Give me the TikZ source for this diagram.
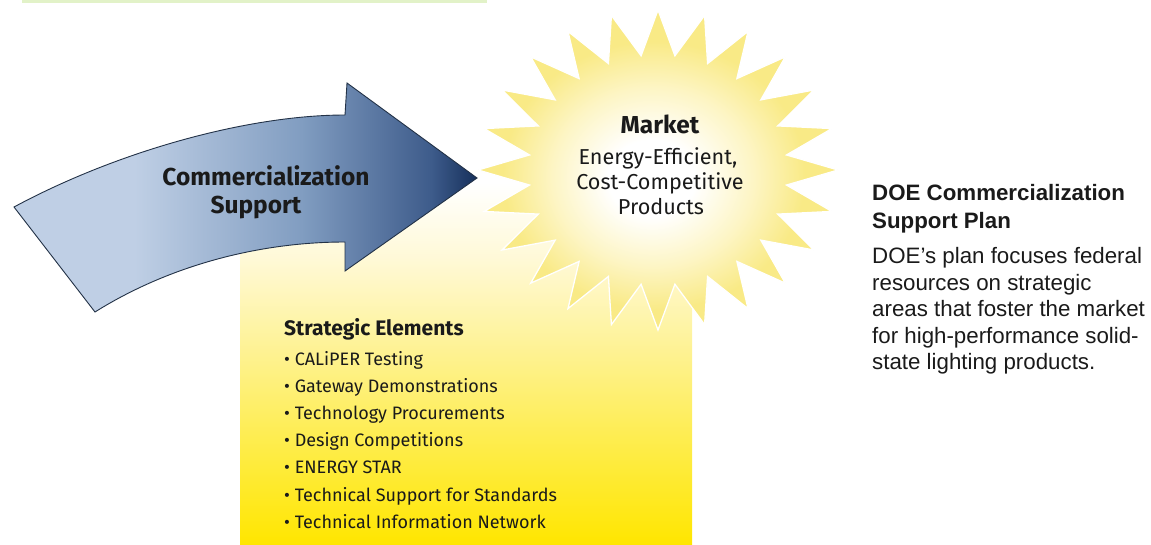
\documentclass[tikz,border=0pt]{standalone}
\usepackage{fontspec}
\setmainfont{Fira Sans}
\newfontfamily\arialfont{Liberation Sans}
\definecolor{arrowA}{HTML}{BFCFE5}
\definecolor{arrowB}{HTML}{819DC1}
\definecolor{arrowC}{HTML}{3E5C8B}
\definecolor{arrowD}{HTML}{16305C}
\definecolor{yelA}{HTML}{FFE600}
\definecolor{yelB}{HTML}{FEEC45}
\definecolor{yelC}{HTML}{FEF292}
\definecolor{yelD}{HTML}{FFF9D6}
\definecolor{starB}{HTML}{FDF5C4}
\definecolor{starC}{HTML}{F9EA86}
\definecolor{topline}{HTML}{E2F2C8}
\definecolor{outline}{HTML}{233247}
\definecolor{txt}{HTML}{1A1A1A}
\pgfdeclarehorizontalshading{arrowshade}{100bp}{color(0bp)=(arrowA); color(25bp)=(arrowA); color(38bp)=(arrowA); color(56bp)=(arrowB); color(70bp)=(arrowC); color(75bp)=(arrowD); color(100bp)=(arrowD)}
\pgfdeclareverticalshading{rectshade}{100bp}{color(0bp)=(yelA); color(25bp)=(yelA); color(37bp)=(yelB); color(50bp)=(yelC); color(62bp)=(yelD); color(72bp)=(white); color(100bp)=(white)}
\pgfdeclareradialshading{starshade}{\pgfpoint{-1bp}{-1.5bp}}{color(0bp)=(white); color(6bp)=(white); color(14bp)=(starB); color(21bp)=(starC); color(50bp)=(starC)}
\begin{document}
\begin{tikzpicture}[x=1pt,y=-1pt,
  starlbl/.style={font=\fontsize{21.6}{24}\selectfont, text=txt, inner sep=0pt, anchor=base},
  arrowlbl/.style={font=\fontsize{24.5}{26}\selectfont\bfseries, text=txt, inner sep=0pt, anchor=base},
  itemlbl/.style={font=\fontsize{18}{20}\selectfont, text=txt, inner sep=0pt, anchor=base west},
  sidetitle/.style={font=\arialfont\fontsize{22.3}{26}\selectfont\bfseries, text=txt, inner sep=0pt, anchor=base west},
  sidebody/.style={font=\arialfont\fontsize{22.3}{26}\selectfont, text=txt, inner sep=0pt, anchor=base west}]
\useasboundingbox (0,0) rectangle (1151,544);
% thin line at the top
\fill[topline] (22,0) rectangle (487,2.5);
% yellow panel
\shade[shading=rectshade] (240,160) rectangle (692,544);
% starburst
\shade[shading=starshade, draw=white, line width=1.3pt]
  plot[samples at={0,...,47}, variable=\k]
  ({658+180*(0.72+0.28*(1-mod(\k,2)))*cos(90+7.5*\k)},
   {170-160*(0.72+0.28*(1-mod(\k,2)))*sin(90+7.5*\k)}) -- cycle;
% curved arrow
\shade[shading=arrowshade, draw=outline, line width=0.9pt, line join=miter]
  (14,207) .. controls (120,150) and (250,115) .. (345,115)
  -- (347,83) -- (477,178) -- (345,271) -- (345,242)
  .. controls (260,242) and (170,265) .. (95,312) -- cycle;
% arrow labels
\node[arrowlbl] (cs1) at (266,185) {Commercialization};
\node[arrowlbl] (cs2) at (256,213) {Support};
% star labels
\node[starlbl, font=\fontsize{24.5}{26}\selectfont\bfseries] (m0) at (660,133) {Market};
\node[starlbl] (m1) at (658,164) {Energy-Efficient,};
\node[starlbl] (m2) at (660,189) {Cost-Competitive};
\node[starlbl] (m3) at (661,214) {Products};
% strategic elements
\node[itemlbl, font=\fontsize{21}{22}\selectfont\bfseries] (se) at (284,335) {Strategic Elements};
\node[itemlbl] (i1) at (284,365) {• CALiPER Testing};
\node[itemlbl] (i2) at (284,392) {• Gateway Demonstrations};
\node[itemlbl] (i3) at (284,419) {• Technology Procurements};
\node[itemlbl] (i4) at (284,446) {• Design Competitions};
\node[itemlbl] (i5) at (284,473) {• ENERGY STAR};
\node[itemlbl] (i6) at (284,501) {• Technical Support for Standards};
\node[itemlbl] (i7) at (284,528) {• Technical Information Network};
% side text
\node[sidetitle] (t1) at (872,200) {DOE Commercialization};
\node[sidetitle] (t2) at (872,228) {Support Plan};
\node[sidebody] (b1) at (872,263) {DOE’s plan focuses federal};
\node[sidebody] (b2) at (872,290) {resources on strategic};
\node[sidebody] (b3) at (872,316) {areas that foster the market};
\node[sidebody] (b4) at (872,343) {for high-performance solid-};
\node[sidebody] (b5) at (872,369) {state lighting products.};
\end{tikzpicture}
\end{document}
